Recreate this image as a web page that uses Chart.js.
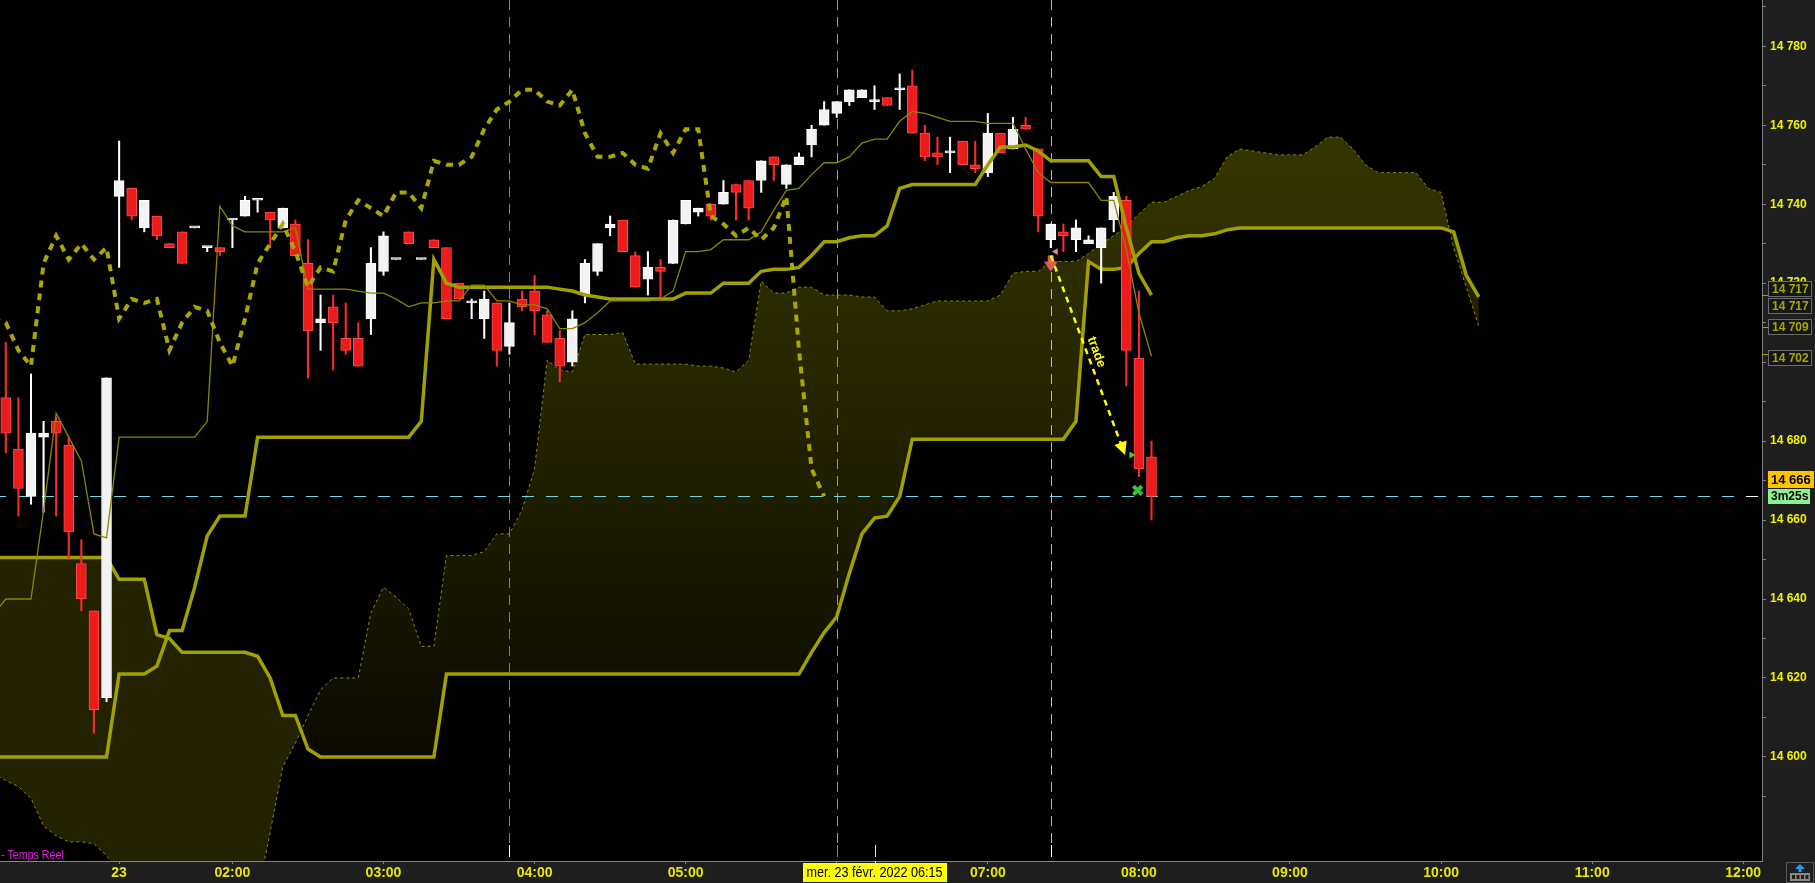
<!DOCTYPE html>
<html lang="fr">
<head>
<meta charset="utf-8">
<title>Ichimoku 5 min - 23 févr. 2022</title>
<script src="https://cdn.jsdelivr.net/npm/chart.js@4.4.1/dist/chart.umd.min.js"></script>
<style>
    html, body { margin: 0; padding: 0; background: #1e1e1e; overflow: hidden; }
    #wrap { width: 1815px; height: 883px; }
</style>
</head>
<body>
<div id="wrap"><canvas id="priceChart" width="1815" height="883"></canvas></div>
<script>
/* ========================================
   Data - 5 min candles, index 0 = 00:30
   ======================================== */

const opens = [
    14691, 14678, 14666, 14681, 14685, 14679, 14649, 14637, 14615, 14742,
    14744, 14734, 14737, 14730, 14733, 14734, 14729, 14729, 14736, 14737,
    14741, 14738, 14734, 14735, 14725, 14710, 14714, 14706, 14706, 14711,
    14723, 14726, 14733, 14726, 14731, 14729, 14720, 14715, 14711, 14715,
    14704, 14716, 14718, 14712, 14706, 14700, 14717, 14723, 14734, 14736,
    14727, 14721, 14724, 14725, 14735, 14738, 14740, 14740, 14745, 14746,
    14746, 14752, 14745, 14750, 14755, 14760, 14763, 14766, 14767, 14766,
    14767, 14769, 14770, 14758, 14753, 14753, 14756, 14750, 14748, 14758,
    14754, 14760, 14754, 14731, 14733, 14731, 14730, 14729, 14736, 14741,
    14701, 14676
];
const highs = [
    14705, 14691, 14697, 14685, 14686, 14681, 14655, 14637, 14696, 14756,
    14744, 14741, 14737, 14730, 14733, 14734, 14729, 14729, 14736, 14742,
    14741, 14738, 14739, 14736, 14731, 14717, 14717, 14715, 14710, 14729,
    14733, 14726, 14733, 14726, 14731, 14729, 14720, 14716, 14718, 14715,
    14715, 14718, 14722, 14713, 14708, 14713, 14726, 14730, 14737, 14736,
    14728, 14728, 14726, 14736, 14741, 14739, 14740, 14746, 14745, 14746,
    14751, 14752, 14750, 14753, 14760, 14766, 14766, 14769, 14769, 14770,
    14767, 14773, 14774, 14760, 14757, 14757, 14756, 14756, 14763, 14758,
    14762, 14762, 14754, 14735, 14735, 14736, 14732, 14734, 14743, 14742,
    14718, 14680
];
const lows = [
    14677, 14661, 14664, 14662, 14661, 14650, 14637, 14606, 14614, 14724,
    14736, 14733, 14731, 14729, 14725, 14734, 14728, 14727, 14729, 14737,
    14738, 14729, 14734, 14727, 14696, 14703, 14698, 14702, 14699, 14707,
    14722, 14726, 14730, 14726, 14729, 14711, 14716, 14711, 14706, 14699,
    14702, 14713, 14707, 14705, 14695, 14699, 14715, 14722, 14732, 14728,
    14719, 14717, 14716, 14725, 14735, 14737, 14736, 14740, 14736, 14736,
    14743, 14746, 14744, 14750, 14752, 14760, 14762, 14765, 14767, 14764,
    14765, 14764, 14758, 14751, 14750, 14748, 14750, 14748, 14747, 14753,
    14754, 14759, 14733, 14729, 14728, 14728, 14730, 14720, 14733, 14694,
    14671, 14660
];
const closes = [
    14682, 14668, 14682, 14682, 14682, 14657, 14640, 14612, 14696, 14746,
    14737, 14741, 14732, 14729, 14725, 14734, 14729, 14728, 14736, 14741,
    14741, 14736, 14739, 14727, 14708, 14711, 14710, 14703, 14699, 14725,
    14732, 14726, 14730, 14726, 14729, 14711, 14716, 14715, 14716, 14703,
    14710, 14714, 14713, 14705, 14699, 14711, 14725, 14730, 14735, 14728,
    14719, 14724, 14723, 14736, 14741, 14739, 14737, 14743, 14743, 14739,
    14751, 14750, 14750, 14752, 14759, 14764, 14766, 14769, 14769, 14766,
    14765, 14769, 14758, 14752, 14752, 14753, 14750, 14749, 14758, 14753,
    14759, 14759, 14737, 14735, 14732, 14734, 14731, 14734, 14742, 14703,
    14673, 14666
];

// Tenkan / Kijun, first value sits one bar before index 0
const tenkan = [
    14636, 14640, 14640, 14640, 14662.5, 14687, 14681, 14675, 14656.5, 14655.5,
    14681, 14681, 14681, 14681, 14681, 14681, 14681, 14685, 14739.5, 14734.5,
    14733, 14733, 14733, 14733, 14734, 14718.5, 14718.5, 14718.5, 14718.5, 14718,
    14717.5, 14717.5, 14716, 14714, 14715, 14715, 14715.5, 14715.5, 14719.5, 14719.5,
    14715.5, 14715.5, 14714.5, 14714.5, 14713.5, 14708.5, 14708.5, 14710, 14712.5, 14715.5,
    14715.5, 14715.5, 14715.5, 14716, 14718, 14728, 14728, 14728.5, 14731, 14731,
    14731, 14733, 14738.5, 14743.5, 14744, 14747.5, 14750.5, 14750.5, 14752, 14755.5,
    14756.5, 14756.5, 14761, 14763.5, 14763, 14762, 14761, 14761, 14761, 14760.5,
    14760.5, 14760.5, 14754, 14748, 14745.5, 14745.5, 14745.5, 14745.5, 14741, 14741,
    14728.5, 14712.5, 14701.5
];
const kijun = [
    14600, 14600, 14600, 14600, 14600, 14600, 14600, 14600, 14600, 14600,
    14621, 14621, 14621, 14623, 14632, 14632, 14643, 14656, 14661, 14661,
    14661, 14681, 14681, 14681, 14681, 14681, 14681, 14681, 14681, 14681,
    14681, 14681, 14681, 14681, 14685, 14726, 14720, 14719, 14719, 14719,
    14719, 14719, 14719, 14719, 14719, 14718.5, 14718, 14717, 14716.5, 14716,
    14716, 14716, 14716, 14716, 14716, 14717.5, 14717.5, 14717.5, 14720, 14720,
    14720, 14723, 14723.5, 14723.5, 14724, 14727, 14730.5, 14730.5, 14731.5, 14732,
    14732, 14734.5, 14744, 14745, 14745, 14745, 14745, 14745, 14745, 14750,
    14754.5, 14754.5, 14755, 14753.5, 14751, 14751, 14751, 14751, 14747, 14747,
    14734, 14722.5, 14717
];

// Cloud spans, projected 26 bars ahead (index -1 .. 117)
const spanA = [
    14596, 14594, 14592.5, 14589.5, 14582.5, 14580, 14578.5, 14578.5, 14578, 14575,
    14571, 14566, 14562, 14562, 14562, 14562, 14562, 14562, 14562, 14562,
    14563, 14565, 14581, 14597.5, 14603.5, 14610.5, 14617, 14620, 14620, 14620,
    14636.5, 14643, 14640.5, 14637.5, 14628, 14628, 14651, 14651, 14651, 14652,
    14656.5, 14656.5, 14662.5, 14673, 14700.5, 14698, 14697.5, 14707, 14707, 14707,
    14707.5, 14699.5, 14699.5, 14699.5, 14699.5, 14699.5, 14699, 14699, 14698.5, 14697.5,
    14700.5, 14720.5, 14717.5, 14717.5, 14719, 14719, 14717, 14717, 14717, 14716.5,
    14716.5, 14713, 14713, 14713.5, 14714.5, 14715.5, 14715.5, 14715.5, 14715.5, 14715.5,
    14717, 14722.5, 14723, 14723, 14725.5, 14725.5, 14725.5, 14727.5, 14730, 14732,
    14734.5, 14737.5, 14740.5, 14740.5, 14742, 14743.5, 14744.5, 14746.5, 14752, 14754,
    14753.5, 14753, 14752.5, 14752.5, 14752.5, 14754.5, 14757, 14757, 14754, 14750,
    14748, 14748, 14748, 14748, 14744, 14743, 14729, 14719, 14709
];
const spanB = [
    14650.5, 14650.5, 14650.5, 14650.5, 14650.5, 14650.5, 14650.5, 14650.5, 14650.5, 14650.5,
    14645, 14645, 14645, 14631, 14630, 14626.5, 14626.5, 14626.5, 14626.5, 14626.5,
    14626.5, 14625.5, 14620, 14610.5, 14610.5, 14602, 14600, 14600, 14600, 14600,
    14600, 14600, 14600, 14600, 14600, 14600, 14621, 14621, 14621, 14621,
    14621, 14621, 14621, 14621, 14621, 14621, 14621, 14621, 14621, 14621,
    14621, 14621, 14621, 14621, 14621, 14621, 14621, 14621, 14621, 14621,
    14621, 14621, 14621, 14621, 14621, 14626.5, 14631.5, 14635.5, 14646.5, 14656.5,
    14660.5, 14661, 14666, 14680.5, 14680.5, 14680.5, 14680.5, 14680.5, 14680.5, 14680.5,
    14680.5, 14680.5, 14680.5, 14680.5, 14680.5, 14680.5, 14685, 14725.5, 14723.5, 14723.5,
    14724, 14727.5, 14730.5, 14730.5, 14731.5, 14732, 14732, 14732.5, 14733.5, 14734,
    14734, 14734, 14734, 14734, 14734, 14734, 14734, 14734, 14734, 14734,
    14734, 14734, 14734, 14734, 14734, 14734, 14733, 14722, 14716.5
];

// Axes
const xTickPos = [9, 18, 30, 42, 54, 66, 78, 90, 102, 114, 126, 138];
const xTickLabels = ['23', '02:00', '03:00', '04:00', '05:00', '06:00', '07:00',
                     '08:00', '09:00', '10:00', '11:00', '12:00'];
const yLabelValues = [14600, 14620, 14640, 14660, 14680, 14700, 14720, 14740, 14760, 14780];
const yMinorValues = [14590, 14610, 14630, 14650, 14670, 14690, 14710, 14730, 14750, 14770, 14790];
const xMin = -0.461, xMax = 139.49;
const yMin = 14573.64, yMax = 14791.73;

// Annotations
const lastPrice = 14666;
const timerText = '3m25s';
const lineTagValues = [14717, 14717, 14709, 14702];
const guideIdx = [40, 66, 83];
const markIdx = [40, 66, 69, 83];
const cursorIdx = 69;
const cursorLabel = 'mer. 23 févr. 2022 06:15';
const sellIdx = 83, sellPrice = 14725;
const tradeIdx = [83, 88.9];
const tradePrice = [14727, 14676.5];
const entryIdx = [83.4], entryPrice = [14728];
const exitIdx = [89.4], exitPrice = [14676.5];
const closedIdx = [89.9], closedPrice = [14667.5];

/* ========================================
   Helpers
   ======================================== */

const OLIVE = '#a0a000';
const SANS = '"Liberation Sans", Arial, sans-serif';
const WICK_DS = 7;

function fmtPrice(v) {
    return String(Math.round(v)).replace(/(\d{2})(\d{3})$/, '$1 $2');
}

function shifted(values, startIdx) {
    return values.map((v, k) => ({ x: k + startIdx, y: v }));
}

// squeezed text, the platform uses a narrow face
function narrowText(ctx, text, x, y, squeeze) {
    ctx.save();
    ctx.translate(x, y);
    ctx.scale(squeeze, 1);
    ctx.fillText(text, 0, 0);
    ctx.restore();
}

const isUp = i => closes[i] >= opens[i];

/* ========================================
   Plugins
   ======================================== */

const backdropPlugin = {
    id: 'backdrop',
    beforeDraw(chart) {
        const { ctx, chartArea: a, width, height } = chart;
        ctx.save();
        ctx.fillStyle = '#1e1e1e';
        ctx.fillRect(0, 0, width, height);
        ctx.fillStyle = '#000000';
        ctx.fillRect(a.left, a.top, a.right - a.left, a.bottom - a.top);
        ctx.restore();
    }
};

// vertical session lines + last price line, under the candles
const guidePlugin = {
    id: 'guides',
    beforeDatasetDraw(chart, args) {
        if (args.index !== WICK_DS) return;
        const { ctx, chartArea: a, scales: { x, y } } = chart;
        const colors = ['#4f86e8', '#e565d8', '#f2b234'];
        const markColors = ['#ffffff', '#e040e0', '#ffff00', '#ffffff'];
        ctx.save();
        ctx.lineWidth = 1;
        ctx.setLineDash([10, 7]);
        guideIdx.forEach((g, k) => {
            const px = Math.round(x.getPixelForValue(g)) + 0.5;
            ctx.strokeStyle = colors[k];
            ctx.beginPath();
            ctx.moveTo(px, a.top);
            ctx.lineTo(px, a.bottom - 18);
            ctx.stroke();
        });
        ctx.setLineDash([]);
        markIdx.forEach((m, k) => {
            const px = Math.round(x.getPixelForValue(m)) + 0.5;
            ctx.strokeStyle = markColors[k];
            ctx.beginPath();
            ctx.moveTo(px, a.bottom - 16);
            ctx.lineTo(px, a.bottom - 4);
            ctx.stroke();
        });
        const py = Math.round(y.getPixelForValue(lastPrice)) + 0.5;
        ctx.strokeStyle = '#6fdcec';
        ctx.setLineDash([12, 12]);
        ctx.lineDashOffset = 6;
        ctx.beginPath();
        ctx.moveTo(a.left, py);
        ctx.lineTo(a.right, py);
        ctx.stroke();
        ctx.restore();
    }
};

function drawTrade(ctx, x, y) {
    const x0 = x.getPixelForValue(tradeIdx[0]), y0 = y.getPixelForValue(tradePrice[0]);
    const x1 = x.getPixelForValue(tradeIdx[1]), y1 = y.getPixelForValue(tradePrice[1]);
    const ang = Math.atan2(y1 - y0, x1 - x0);
    const len = Math.hypot(x1 - x0, y1 - y0);
    ctx.save();
    ctx.translate(x0, y0);
    ctx.rotate(ang);
    ctx.strokeStyle = '#ffff00';
    ctx.lineWidth = 2.5;
    ctx.setLineDash([6, 5]);
    ctx.beginPath();
    ctx.moveTo(0, 0);
    ctx.lineTo(len - 11, 0);
    ctx.stroke();
    ctx.setLineDash([]);
    ctx.fillStyle = '#ffff00';
    ctx.beginPath();
    ctx.moveTo(len, 0);
    ctx.lineTo(len - 13, -6.5);
    ctx.lineTo(len - 13, 6.5);
    ctx.closePath();
    ctx.fill();
    ctx.font = 'bold 13px ' + SANS;
    ctx.textAlign = 'center';
    ctx.textBaseline = 'middle';
    ctx.fillText('trade', len / 2, -9);
    ctx.restore();
}

function drawSellArrow(ctx, x, y) {
    const px = x.getPixelForValue(sellIdx), py = y.getPixelForValue(sellPrice);
    ctx.save();
    ctx.fillStyle = 'rgba(240, 96, 100, 0.92)';
    ctx.fillRect(px - 3, py - 8, 6, 7);
    ctx.beginPath();
    ctx.moveTo(px - 7, py - 2);
    ctx.lineTo(px + 7, py - 2);
    ctx.lineTo(px, py + 8);
    ctx.closePath();
    ctx.fill();
    ctx.restore();
}

function drawAxisTags(ctx, a, y) {
    const left = a.right + 6;
    const tagShift = [-7, 10, -1, 3];
    ctx.save();
    ctx.textBaseline = 'middle';
    ctx.textAlign = 'left';
    ctx.lineWidth = 1;
    lineTagValues.forEach((v, k) => {
        const py = Math.round(y.getPixelForValue(v)) + 0.5;
        ctx.strokeStyle = OLIVE;
        ctx.beginPath();
        ctx.moveTo(a.right, py);
        ctx.lineTo(a.right + 6, py);
        ctx.stroke();
        const cy = Math.round(py + tagShift[k]);
        ctx.fillStyle = '#161616';
        ctx.fillRect(left, cy - 8, 44, 16);
        ctx.strokeStyle = '#6c6c6c';
        ctx.strokeRect(left + 0.5, cy - 7.5, 43, 15);
        ctx.font = 'bold 12px ' + SANS;
        ctx.fillStyle = '#a6a600';
        ctx.fillText(fmtPrice(v), left + 4, cy + 1);
    });

    // last price and bar countdown
    const lp = Math.round(y.getPixelForValue(lastPrice));
    ctx.strokeStyle = '#ffffff';
    ctx.beginPath();
    ctx.moveTo(a.right - 16, lp + 0.5);
    ctx.lineTo(a.right - 4, lp + 0.5);
    ctx.stroke();

    ctx.fillStyle = '#ffc400';
    ctx.fillRect(left, lp - 25, 46, 17);
    ctx.fillStyle = '#000000';
    ctx.font = 'bold 13px ' + SANS;
    ctx.fillText(fmtPrice(lastPrice), left + 3, lp - 16);

    ctx.fillStyle = '#8ff08f';
    ctx.fillRect(left, lp - 7, 42, 15);
    ctx.fillStyle = '#000000';
    ctx.font = 'bold 12px ' + SANS;
    ctx.fillText(timerText, left + 3, lp + 1);
    ctx.restore();
}

function drawCursorBox(ctx, a, x) {
    const px = x.getPixelForValue(cursorIdx);
    const squeeze = 0.84;
    ctx.save();
    ctx.font = '15px ' + SANS;
    const w = Math.round(ctx.measureText(cursorLabel).width * squeeze + 8);
    ctx.fillStyle = '#ffff00';
    ctx.fillRect(Math.round(px - w / 2), a.bottom + 2, w, 19);
    ctx.fillRect(Math.round(px), a.bottom, 1, 3);
    ctx.fillStyle = '#000000';
    ctx.textAlign = 'center';
    ctx.textBaseline = 'middle';
    narrowText(ctx, cursorLabel, px, a.bottom + 12, squeeze);
    ctx.restore();
}

function drawStatus(ctx, a) {
    ctx.save();
    ctx.font = '13px ' + SANS;
    ctx.fillStyle = '#e41ee4';
    ctx.textAlign = 'left';
    ctx.textBaseline = 'alphabetic';
    narrowText(ctx, '- Temps Réel', 1, a.bottom - 2, 0.82);
    ctx.restore();
}

function drawCornerButton(ctx, chart) {
    const x0 = chart.width - 29, y0 = chart.height - 21;
    ctx.save();
    ctx.strokeStyle = '#5a5a5a';
    ctx.strokeRect(x0 + 0.5, y0 + 0.5, 27, 20);
    ctx.fillStyle = '#8a8a8a';
    ctx.fillRect(x0 + 4, y0 + 11, 20, 8);
    ctx.fillStyle = '#222222';
    for (let k = 0; k < 4; k++) ctx.fillRect(x0 + 6 + k * 4.5, y0 + 13, 3, 4);
    ctx.fillStyle = '#1e9cf0';
    ctx.beginPath();
    ctx.moveTo(x0 + 14, y0 + 2);
    ctx.lineTo(x0 + 19, y0 + 7);
    ctx.lineTo(x0 + 9, y0 + 7);
    ctx.closePath();
    ctx.fill();
    ctx.fillRect(x0 + 12.5, y0 + 7, 3, 3);
    ctx.restore();
}

const overlayPlugin = {
    id: 'overlay',
    afterDraw(chart) {
        const { ctx, chartArea: a, scales: { x, y } } = chart;
        ctx.save();
        ctx.beginPath();
        ctx.rect(a.left, a.top, a.right - a.left, a.bottom - a.top);
        ctx.clip();
        drawSellArrow(ctx, x, y);
        drawTrade(ctx, x, y);
        ctx.restore();
        drawAxisTags(ctx, a, y);
        drawCursorBox(ctx, a, x);
        drawStatus(ctx, a);
        drawCornerButton(ctx, chart);
    }
};

/* ========================================
   Chart
   ======================================== */

function initPriceChart() {
    const canvas = document.getElementById('priceChart');
    const ctx = canvas.getContext('2d');

    const cloudUp = ctx.createLinearGradient(0, 120, 0, 760);
    cloudUp.addColorStop(0, '#363600');
    cloudUp.addColorStop(0.4, '#262600');
    cloudUp.addColorStop(1, '#0a0a00');

    const bodyData = opens.map((o, i) => ({ x: i, y: [o, closes[i]] }));
    const wickData = highs.map((h, i) => ({ x: i, y: [lows[i], h] }));
    // lagging line = closes drawn 26 bars back
    const chikouData = closes.slice(25).map((c, k) => ({ x: k + 25 - 26, y: c }));

    new Chart(ctx, {
        type: 'bar',
        data: {
            datasets: [
                {
                    type: 'scatter',
                    data: entryPrice.map((p, k) => ({ x: entryIdx[k], y: p })),
                    pointStyle: 'triangle',
                    rotation: -90,
                    radius: 4,
                    backgroundColor: '#ff7a7a',
                    borderWidth: 0
                },
                {
                    type: 'scatter',
                    data: exitPrice.map((p, k) => ({ x: exitIdx[k], y: p })),
                    pointStyle: 'triangle',
                    rotation: 90,
                    radius: 4,
                    backgroundColor: '#3ed03e',
                    borderWidth: 0
                },
                {
                    type: 'scatter',
                    data: closedPrice.map((p, k) => ({ x: closedIdx[k], y: p })),
                    pointStyle: 'crossRot',
                    radius: 6,
                    borderColor: '#33c433',
                    borderWidth: 4
                },
                {
                    type: 'line',
                    label: 'Chikou',
                    data: chikouData,
                    borderColor: '#a8a800',
                    borderWidth: 4,
                    borderDash: [7, 6],
                    pointRadius: 0,
                    tension: 0,
                    fill: false
                },
                {
                    type: 'line',
                    label: 'Tenkan',
                    data: shifted(tenkan, -1),
                    borderColor: '#888800',
                    borderWidth: 1.3,
                    pointRadius: 0,
                    tension: 0,
                    fill: false
                },
                {
                    type: 'line',
                    label: 'Kijun',
                    data: shifted(kijun, -1),
                    borderColor: OLIVE,
                    borderWidth: 3.5,
                    pointRadius: 0,
                    tension: 0,
                    fill: false
                },
                {
                    label: 'Corps',
                    data: bodyData,
                    grouped: false,
                    barPercentage: 1,
                    categoryPercentage: 1,
                    maxBarThickness: 10,
                    minBarLength: 2,
                    borderSkipped: false,
                    borderWidth: 1,
                    backgroundColor: c => isUp(c.dataIndex) ? '#f3f3f3' : '#ec1c1c',
                    borderColor: c => isUp(c.dataIndex) ? '#ffffff' : '#ff4a4a'
                },
                {
                    label: 'Mèches',
                    data: wickData,
                    grouped: false,
                    barPercentage: 1,
                    categoryPercentage: 1,
                    maxBarThickness: 1.4,
                    borderWidth: 0,
                    backgroundColor: c => isUp(c.dataIndex) ? '#ffffff' : '#ff2a2a'
                },
                {
                    type: 'line',
                    label: 'Senkou B',
                    data: shifted(spanB, -1),
                    borderColor: OLIVE,
                    borderWidth: 3.5,
                    pointRadius: 0,
                    tension: 0,
                    fill: false
                },
                {
                    type: 'line',
                    label: 'Senkou A',
                    data: shifted(spanA, -1),
                    borderColor: '#8c8c00',
                    borderWidth: 1,
                    borderDash: [3, 3],
                    pointRadius: 0,
                    tension: 0,
                    fill: { target: 8, above: cloudUp, below: '#222200' }
                }
            ]
        },
        options: {
            responsive: false,
            animation: false,
            events: [],
            layout: { padding: 0, autoPadding: false },
            plugins: {
                legend: { display: false },
                tooltip: { enabled: false }
            },
            scales: {
                x: {
                    type: 'linear',
                    min: xMin,
                    max: xMax,
                    offset: false,
                    afterFit: s => {
                        s.height = 22;
                        s.paddingLeft = 0;
                        s.paddingRight = 0;
                    },
                    afterBuildTicks: s => { s.ticks = xTickPos.map(v => ({ value: v })); },
                    grid: { drawOnChartArea: false, offset: false, tickLength: 3, color: '#858585' },
                    border: { display: true, color: '#858585' },
                    ticks: {
                        autoSkip: false,
                        maxRotation: 0,
                        padding: 1,
                        color: '#e8e800',
                        font: { family: SANS, size: 14, weight: 'bold' },
                        callback: (v, idx) => xTickLabels[idx]
                    }
                },
                y: {
                    type: 'linear',
                    position: 'right',
                    min: yMin,
                    max: yMax,
                    beginAtZero: false,
                    afterFit: s => {
                        s.width = 53;
                        s.paddingTop = 0;
                        s.paddingBottom = 0;
                    },
                    afterBuildTicks: s => {
                        s.ticks = yLabelValues.concat(yMinorValues)
                            .sort((p, q) => p - q)
                            .map(v => ({ value: v }));
                    },
                    grid: { drawOnChartArea: false, tickLength: 4, color: '#858585' },
                    border: { display: true, color: '#858585' },
                    ticks: {
                        autoSkip: false,
                        padding: 4,
                        color: '#f2f200',
                        font: { family: SANS, size: 12, weight: 'bold' },
                        callback: v => yLabelValues.includes(v) ? fmtPrice(v) : ''
                    }
                }
            }
        },
        plugins: [backdropPlugin, guidePlugin, overlayPlugin]
    });
}

document.addEventListener('DOMContentLoaded', initPriceChart);
</script>
</body>
</html>
